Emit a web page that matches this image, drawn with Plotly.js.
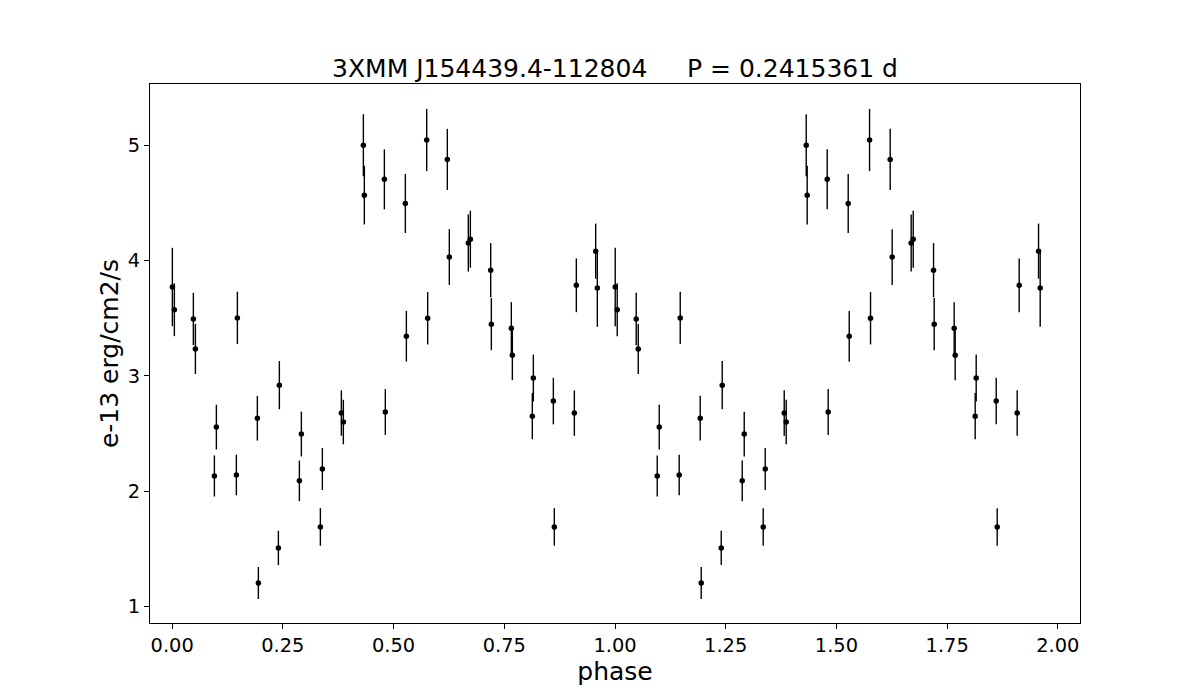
<!DOCTYPE html>
<html>
<head>
<meta charset="utf-8">
<script src="https://cdn.plot.ly/plotly-3.0.1.min.js"></script>
<style>
  html, body { margin: 0; padding: 0; background: #ffffff; }
  #chart { width: 1200px; height: 700px; }
</style>
</head>
<body>
<div id="chart"></div>
<script>
// Folded light curve values (one cycle)
const phase = [0.0005, 0.0050, 0.0479, 0.0525, 0.0954, 0.0999, 0.1450, 0.1473, 0.1924, 0.1947,
               0.2399, 0.2421, 0.2873, 0.2918, 0.3347, 0.3392, 0.3821, 0.3866, 0.4318, 0.4340,
               0.4792, 0.4814, 0.5266, 0.5289, 0.5748, 0.5770, 0.6214, 0.6259, 0.6688, 0.6734,
               0.7193, 0.7208, 0.7659, 0.7682, 0.8133, 0.8156, 0.8608, 0.8630, 0.9082, 0.9127,
               0.9564, 0.9601];
const flux  = [3.770, 3.573, 3.493, 3.233, 2.131, 2.555, 2.140, 3.502, 2.632, 1.203,
               1.507, 2.919, 2.089, 2.495, 1.689, 2.191, 2.677, 2.599, 5.000, 4.567,
               4.704, 2.686, 4.495, 3.343, 5.045, 3.499, 4.877, 4.030, 4.152, 4.185,
               3.916, 3.448, 3.412, 3.179, 2.650, 2.981, 2.781, 1.689, 2.677, 3.785,
               4.081, 3.761];
const fluxErr = [0.340, 0.229, 0.227, 0.217, 0.178, 0.194, 0.176, 0.227, 0.194, 0.139,
                 0.149, 0.209, 0.176, 0.194, 0.163, 0.182, 0.197, 0.193, 0.269, 0.254,
                 0.260, 0.199, 0.256, 0.220, 0.269, 0.227, 0.265, 0.242, 0.248, 0.247,
                 0.235, 0.226, 0.227, 0.217, 0.200, 0.203, 0.202, 0.163, 0.197, 0.233,
                 0.239, 0.336];
const xTickVals = [0, 0.25, 0.5, 0.75, 1.0, 1.25, 1.5, 1.75, 2.0];
const xTickText = ["0.00", "0.25", "0.50", "0.75", "1.00", "1.25", "1.50", "1.75", "2.00"];
const yTickVals = [1, 2, 3, 4, 5];
const sourceName = "3XMM J154439.4-112804";
const periodText = "P = 0.2415361 d";

// the folded curve is drawn twice: phase and phase + 1
const xAll = phase.concat(phase.map(p => p + 1));
const yAll = flux.concat(flux);
const eAll = fluxErr.concat(fluxErr);

const FONT = "DejaVu Sans, sans-serif";
const NB = "\u00a0";

const trace = {
  type: "scatter",
  mode: "markers",
  x: xAll,
  y: yAll,
  error_y: { type: "data", array: eAll, visible: true, color: "#000000", thickness: 1.4, width: 0 },
  marker: { color: "#000000", size: 5.5 },
  hoverinfo: "x+y"
};

const layout = {
  width: 1200,
  height: 700,
  margin: { l: 150, r: 120, t: 84, b: 77, pad: 0 },
  paper_bgcolor: "#ffffff",
  plot_bgcolor: "#ffffff",
  showlegend: false,
  font: { family: FONT, color: "#000000", size: 19.4 },
  title: {
    text: sourceName + NB.repeat(5) + periodText,
    font: { family: FONT, size: 25, color: "#000000" },
    x: 0.5, xref: "paper", xanchor: "center",
    y: 1 - 68 / 700, yref: "container", yanchor: "middle"
  },
  xaxis: {
    range: [-0.05, 2.05],
    tickmode: "array",
    tickvals: xTickVals,
    ticktext: xTickText,
    ticks: "outside",
    ticklen: 5,
    tickwidth: 1,
    tickcolor: "#000000",
    showline: true,
    linecolor: "#000000",
    linewidth: 1,
    mirror: true,
    showgrid: false,
    zeroline: false,
    tickfont: { family: FONT, size: 19.4, color: "#000000" },
    title: { text: "phase", font: { family: FONT, size: 25, color: "#000000" }, standoff: 1 },
    automargin: false
  },
  yaxis: {
    range: [0.856, 5.531],
    tickmode: "array",
    tickvals: yTickVals,
    ticktext: yTickVals.map(String),
    ticks: "outside",
    ticklen: 5,
    tickwidth: 1,
    tickcolor: "#000000",
    showline: true,
    linecolor: "#000000",
    linewidth: 1,
    mirror: true,
    showgrid: false,
    zeroline: false,
    tickfont: { family: FONT, size: 19.4, color: "#000000" },
    title: { text: "e-13 erg/cm2/s", font: { family: FONT, size: 25, color: "#000000" }, standoff: 2 },
    automargin: false
  }
};

Plotly.newPlot("chart", [trace], layout, { staticPlot: true, displayModeBar: false });
</script>
</body>
</html>
